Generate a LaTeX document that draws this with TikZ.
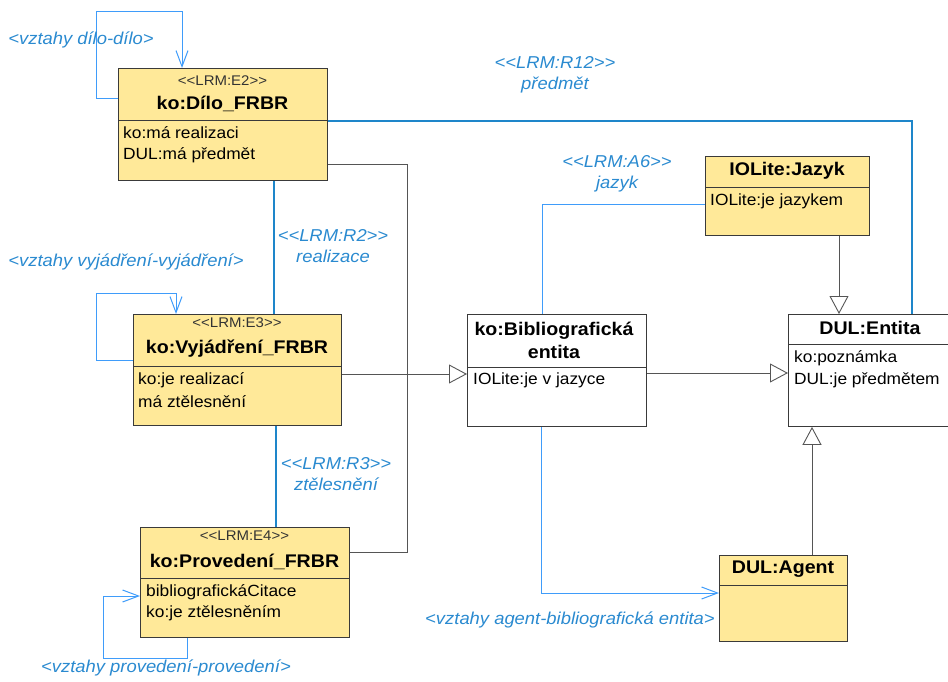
\documentclass[tikz,border=0pt]{standalone}
\usepackage{fontspec}
\setmainfont[FakeStretch=1.07, Ligatures=TeXOff]{Liberation Sans}
\usetikzlibrary{arrows.meta}
\definecolor{clsfill}{HTML}{FFE999}
\definecolor{clsline}{HTML}{3A3A3A}
\definecolor{genline}{HTML}{555555}
\definecolor{assocblue}{HTML}{1E86CA}
\definecolor{navblue}{HTML}{3F9CFA}
\definecolor{lblblue}{HTML}{2A8AD0}
\begin{document}
\begin{tikzpicture}[x=1pt,y=-1pt,
  cls/.style={draw=clsline, line width=0.9pt, fill=clsfill, inner sep=0pt, anchor=north west},
  plaincls/.style={cls, fill=white},
  divider/.style={draw=clsline, line width=0.9pt},
  stereo/.style={font=\fontsize{14}{16}\selectfont, text=black!80, inner sep=0pt},
  cname/.style={font=\fontsize{18.3}{23}\selectfont\bfseries, inner sep=0pt, align=center},
  attr/.style={font=\fontsize{16.2}{18}\selectfont, anchor=west, inner sep=0pt},
  rolelbl/.style={font=\fontsize{17.2}{21}\selectfont\itshape, text=lblblue, align=center, inner sep=0pt},
  gen/.style={draw=genline, line width=0.9pt, -{Triangle[length=18pt, width=19pt, fill=white]}},
  genplain/.style={draw=genline, line width=0.9pt},
  assoc/.style={draw=assocblue, line width=1.8pt},
  nav/.style={draw=navblue, line width=1pt},
  navarr/.style={nav, -{Straight Barb[length=16pt, width=12pt]}}
]
\useasboundingbox (0,0) rectangle (948,682);

% ---------- classes ----------
\node[cls, minimum width=209pt, minimum height=112pt] (dilo) at (118,68) {};
\draw[divider] (dilo.west |- 0,120) -- (dilo.east |- 0,120);
\node[stereo] (diloS) at (222.5,81) {<<LRM:E2>>};
\node[cname] (diloN) at (222.5,104) {ko:Dílo\_FRBR};
\node[attr] (diloA1) at (123,133) {ko:má realizaci};
\node[attr] (diloA2) at (123,155) {DUL:má předmět};

\node[cls, minimum width=208pt, minimum height=111pt] (vyj) at (133,314) {};
\draw[divider] (vyj.west |- 0,366) -- (vyj.east |- 0,366);
\node[stereo] (vyjS) at (237,323) {<<LRM:E3>>};
\node[cname] (vyjN) at (237,349) {ko:Vyjádření\_FRBR};
\node[attr] (vyjA1) at (138,380) {ko:je realizací};
\node[attr] (vyjA2) at (138,402) {má ztělesnění};

\node[cls, minimum width=209pt, minimum height=110pt] (prov) at (140,527) {};
\draw[divider] (prov.west |- 0,578) -- (prov.east |- 0,578);
\node[stereo] (provS) at (244.5,536) {<<LRM:E4>>};
\node[cname] (provN) at (244.5,562) {ko:Provedení\_FRBR};
\node[attr] (provA1) at (146,592) {bibliografickáCitace};
\node[attr] (provA2) at (146,613) {ko:je ztělesněním};

\node[plaincls, minimum width=179pt, minimum height=112pt] (bib) at (467,314) {};
\draw[divider] (bib.west |- 0,367) -- (bib.east |- 0,367);
\node[cname] (bibN) at (554,340.5) {ko:Bibliografická\\entita};
\node[attr] (bibA1) at (473,380) {IOLite:je v jazyce};

\node[plaincls, minimum width=160pt, minimum height=112pt] (ent) at (788,314) {};
\draw[divider] (ent.west |- 0,344) -- (ent.east |- 0,344);
\node[cname] (entN) at (870,328) {DUL:Entita};
\node[attr] (entA1) at (794,358) {ko:poznámka};
\node[attr] (entA2) at (794,380) {DUL:je předmětem};

\node[cls, minimum width=164pt, minimum height=79pt] (jaz) at (705,156) {};
\draw[divider] (jaz.west |- 0,187) -- (jaz.east |- 0,187);
\node[cname] (jazN) at (787,171) {IOLite:Jazyk};
\node[attr] (jazA1) at (710,201) {IOLite:je jazykem};

\node[cls, minimum width=128pt, minimum height=86pt] (agent) at (719,555) {};
\draw[divider] (agent.west |- 0,585) -- (agent.east |- 0,585);
\node[cname] (agentN) at (783,569) {DUL:Agent};

% ---------- generalizations ----------
\coordinate (gj) at (407,374);
\draw[genplain] (dilo.east |- 0,164) -| (gj);
\draw[genplain] (prov.east |- 0,552) -| (gj);
\draw[gen] (vyj.east |- 0,374) -- (bib.west |- 0,374);
\draw[gen] (bib.east |- 0,373) -- (ent.west |- 0,373);
\draw[gen] (jaz.south -| 839,0) -- (ent.north -| 839,0);
\draw[gen] (agent.north -| 812,0) -- (ent.south -| 812,0);

% ---------- LRM relationships ----------
\draw[assoc] (dilo.south -| 274,0) -- (vyj.north -| 274,0);
\draw[assoc] (vyj.south -| 276,0) -- (prov.north -| 276,0);
\draw[assoc] (dilo.east |- 0,121) -| (ent.north -| 912,0);
\draw[nav] (jaz.west |- 0,204) -| (bib.north -| 542,0);

\node[rolelbl] (lR2) at (333,246.5) {<<LRM:R2>>\\realizace};
\node[rolelbl] (lR3) at (336,474) {<<LRM:R3>>\\ztělesnění};
\node[rolelbl] (lR12) at (555,74.5) {<<LRM:R12>>\\předmět};
\node[rolelbl] (lA6) at (617,174) {<<LRM:A6>>\\jazyk};

% ---------- recursive and agent relationships ----------
\draw[navarr] (dilo.west |- 0,99) -- (96,99) |- (182,12) -- (dilo.north -| 182,0);
\draw[navarr] (vyj.west |- 0,360) -- (96,360) |- (176,293) -- (vyj.north -| 176,0);
\draw[navarr] (prov.south -| 187,0) -- (187,658) -| (103,596) -- (prov.west |- 0,596);
\draw[navarr] (bib.south -| 541,0) |- (agent.west |- 0,593);

\node[rolelbl] (lDilo) at (81,40) {<vztahy dílo-dílo>};
\node[rolelbl] (lVyj) at (126,262) {<vztahy vyjádření-vyjádření>};
\node[rolelbl] (lProv) at (166,668) {<vztahy provedení-provedení>};
\node[rolelbl] (lAgent) at (570,620) {<vztahy agent-bibliografická entita>};
\end{tikzpicture}
\end{document}
